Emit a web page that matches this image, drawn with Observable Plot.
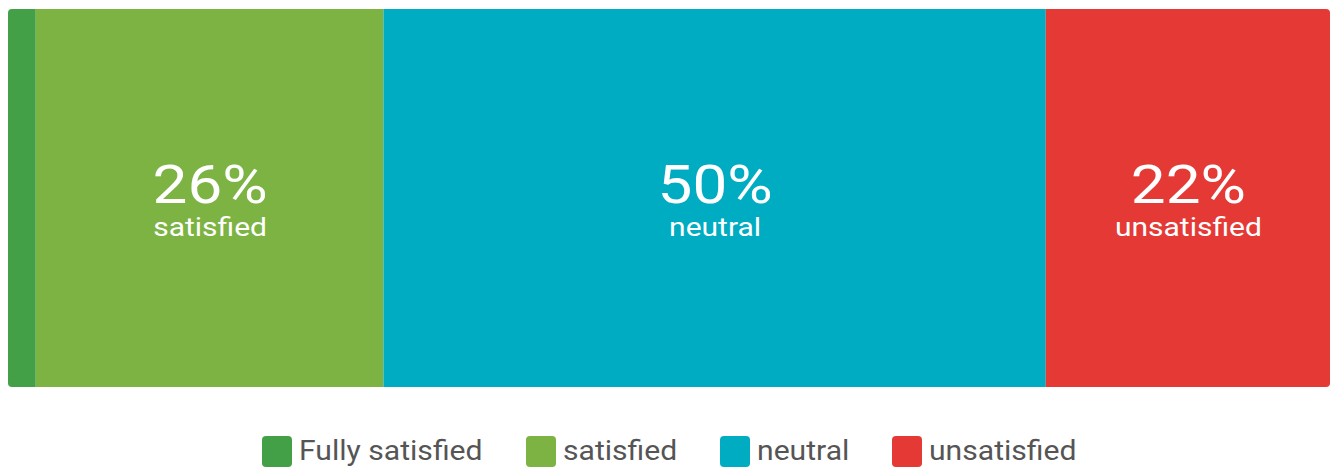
<!DOCTYPE html>
<html>
<head>
<meta charset="utf-8">
<script src="https://cdn.jsdelivr.net/npm/d3@7"></script>
<script src="https://cdn.jsdelivr.net/npm/@observablehq/plot@0.6"></script>
<style>
  body { margin: 0; background: #fff; font-family: Roboto, "Noto Sans", sans-serif; }
  #wrap { padding: 9px 1px 0 8px; width: 1322px; }
  #chart svg { display: block; clip-path: inset(0 round 4px); }
  #legend { display: flex; justify-content: center; align-items: center; margin-top: 48px; width: 1331px; margin-left: -4px; }
  .item { display: flex; align-items: center; margin: 0 21.5px; font-size: 27px; color: #555; }
  .sw { width: 30px; height: 31px; border-radius: 4px; margin-right: 7px; flex: none; }
  .lbl { display: inline-block; white-space: nowrap; }
  .lbl span { display: inline-block; transform-origin: 0 50%; }
</style>
</head>
<body>
<div id="wrap">
  <div id="chart"></div>
  <div id="legend"></div>
</div>
<script>
const categories = ["Fully satisfied", "satisfied", "neutral", "unsatisfied"];
const values = [2.1, 26.3, 50.1, 21.5];
const shownLabels = ["", "26%", "50%", "22%"];
const subLabels = ["", "satisfied", "neutral", "unsatisfied"];
const colors = ["#43a047", "#7cb342", "#00acc1", "#e53935"];

const data = categories.map((c, i) => ({category: c, value: values[i], pct: shownLabels[i], sub: subLabels[i]}));

const plot = Plot.plot({
  width: 1322,
  height: 378,
  margin: 0,
  x: {domain: [0, 100], axis: null},
  color: {domain: categories, range: colors},
  marks: [
    Plot.barX(data, Plot.stackX({x: "value", fill: "category", order: null})),
    Plot.text(data, Plot.stackX({x: "value", text: "pct", order: null, fill: "white", fontSize: 53, dy: -12, fontFamily: "Roboto", className: "big"})),
    Plot.text(data, Plot.stackX({x: "value", text: "sub", order: null, fill: "white", fontSize: 25, dy: 29, fontFamily: "Roboto", className: "small"}))
  ]
});
document.getElementById("chart").appendChild(plot);

// widen the glyphs horizontally around each label's anchor, as in the reference
function stretch(sel, k) {
  d3.select(plot).selectAll(sel + " text").each(function () {
    const tr = this.getAttribute("transform");
    if (tr) {
      this.setAttribute("transform", `${tr} scale(${k},1)`);
    } else {
      const x = +this.getAttribute("x") || 0;
      this.setAttribute("transform", `translate(${x},0) scale(${k},1) translate(${-x},0)`);
    }
  });
}
stretch(".big", 1.17);
stretch(".small", 1.2);

const legend = document.getElementById("legend");
const k = 1.115;
categories.forEach((c, i) => {
  const item = document.createElement("div");
  item.className = "item";
  const sw = document.createElement("div");
  sw.className = "sw";
  sw.style.background = colors[i];
  const lbl = document.createElement("div");
  lbl.className = "lbl";
  const t = document.createElement("span");
  t.textContent = c;
  lbl.appendChild(t);
  item.appendChild(sw);
  item.appendChild(lbl);
  legend.appendChild(item);
  const w = t.getBoundingClientRect().width;
  t.style.transform = `scaleX(${k})`;
  lbl.style.width = (w * k) + "px";
});
</script>
</body>
</html>
